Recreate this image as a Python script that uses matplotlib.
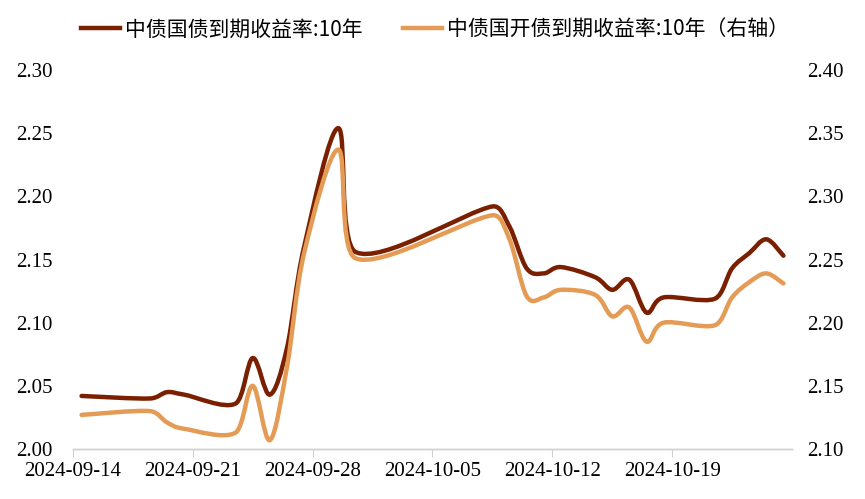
import matplotlib
matplotlib.use('Agg')
import matplotlib.pyplot as plt
import matplotlib.dates as mdates
from matplotlib.path import Path
from matplotlib.patches import PathPatch
from matplotlib.lines import Line2D
import datetime as dt

# 数据
dates = ['2024-09-14', '2024-09-18', '2024-09-19', '2024-09-20', '2024-09-23',
         '2024-09-24', '2024-09-25', '2024-09-26', '2024-09-27', '2024-09-29',
         '2024-09-30', '2024-10-08', '2024-10-09', '2024-10-10', '2024-10-11',
         '2024-10-12', '2024-10-14', '2024-10-15', '2024-10-16', '2024-10-17',
         '2024-10-18', '2024-10-21', '2024-10-22', '2024-10-23', '2024-10-24',
         '2024-10-25']
cgb_10y = [2.042, 2.040, 2.045, 2.043, 2.036, 2.072, 2.043, 2.080, 2.160, 2.254,
           2.156, 2.192, 2.176, 2.143, 2.139, 2.144, 2.136, 2.126, 2.134, 2.108,
           2.120, 2.119, 2.143, 2.155, 2.166, 2.153]
cdb_10y = [2.127, 2.130, 2.121, 2.116, 2.113, 2.150, 2.107, 2.165, 2.255, 2.337,
           2.251, 2.285, 2.266, 2.221, 2.220, 2.226, 2.222, 2.205, 2.212, 2.185,
           2.200, 2.198, 2.220, 2.232, 2.239, 2.231]

name_cgb = '中债国债到期收益率:10年'
name_cdb = '中债国开债到期收益率:10年（右轴）'
xticks = ['2024-09-14', '2024-09-21', '2024-09-28', '2024-10-05',
          '2024-10-12', '2024-10-19']
left_ticks = [2.00, 2.05, 2.10, 2.15, 2.20, 2.25, 2.30]
right_ticks = [2.10, 2.15, 2.20, 2.25, 2.30, 2.35, 2.40]

dark = '#7a2000'
light = '#e49b55'
serif = ['Liberation Serif', 'Noto Sans CJK SC']


def to_num(s):
    return mdates.date2num(dt.datetime.strptime(s, '%Y-%m-%d'))


def smooth_path(xs, ys):
    # 类似 Excel 平滑线：Catmull-Rom 贝塞尔，限制控制点的 x 偏移
    n = len(xs)
    tx, ty = [], []
    for i in range(n):
        a = max(i - 1, 0)
        b = min(i + 1, n - 1)
        tx.append((xs[b] - xs[a]) / 6)
        ty.append((ys[b] - ys[a]) / 6)
    verts = [(xs[0], ys[0])]
    codes = [Path.MOVETO]
    for i in range(n - 1):
        dx = xs[i + 1] - xs[i]
        s1 = min(1.0, 0.5 * dx / tx[i]) if tx[i] > 0 else 1.0
        s2 = min(1.0, dx / tx[i + 1]) if tx[i + 1] > 0 else 1.0
        c1 = (xs[i] + tx[i] * s1, ys[i] + ty[i] * s1)
        c2 = (xs[i + 1] - tx[i + 1] * s2, ys[i + 1] - ty[i + 1] * s2)
        verts += [c1, c2, (xs[i + 1], ys[i + 1])]
        codes += [Path.CURVE4] * 3
    return Path(verts, codes)


x = [to_num(d) + 0.5 for d in dates]

fig = plt.figure(figsize=(8.65, 4.99), dpi=100)
ax = fig.add_axes([0.0844, 0.1002, 0.8312, 0.7595])
ax2 = ax.twinx()

ax.add_patch(PathPatch(smooth_path(x, cgb_10y), fill=False, edgecolor=dark,
                       lw=3.2, capstyle='round', joinstyle='round'))
ax2.add_patch(PathPatch(smooth_path(x, cdb_10y), fill=False, edgecolor=light,
                        lw=3.2, capstyle='round', joinstyle='round'))

ax.set_xlim(to_num('2024-09-14'), to_num('2024-10-26'))
ax.set_ylim(2.00, 2.30)
ax2.set_ylim(2.10, 2.40)
ax.set_xticks([to_num(d) for d in xticks])
ax.set_xticklabels(xticks)
ax.set_yticks(left_ticks)
ax.set_yticklabels(['{:.2f}'.format(v) for v in left_ticks])
ax2.set_yticks(right_ticks)
ax2.set_yticklabels(['{:.2f}'.format(v) for v in right_ticks])

for a in (ax, ax2):
    for side in ('left', 'right', 'top'):
        a.spines[side].set_visible(False)
    a.spines['bottom'].set_color('#d0d0d0')
    a.spines['bottom'].set_linewidth(1.0)
    a.tick_params(axis='y', length=0, labelsize=15, pad=11)
    for lab in a.get_yticklabels():
        lab.set_family(serif)
ax.tick_params(axis='x', direction='out', length=6, color='#d0d0d0',
               labelsize=15, pad=3)
for lab in ax.get_xticklabels():
    lab.set_family(serif)
ax.tick_params(axis='y', pad=15)

handles = [Line2D([], [], color=dark, lw=3.2),
           Line2D([], [], color=light, lw=3.2)]
fig.legend(handles, [name_cgb, name_cdb], loc='upper center',
           bbox_to_anchor=(0.503, 1.0), ncol=2, frameon=False,
           prop={'family': ['Noto Sans CJK SC', 'DejaVu Sans'], 'size': 15},
           handlelength=1.9, handletextpad=0.25, columnspacing=1.9)

fig.savefig('out.png', dpi=100)
